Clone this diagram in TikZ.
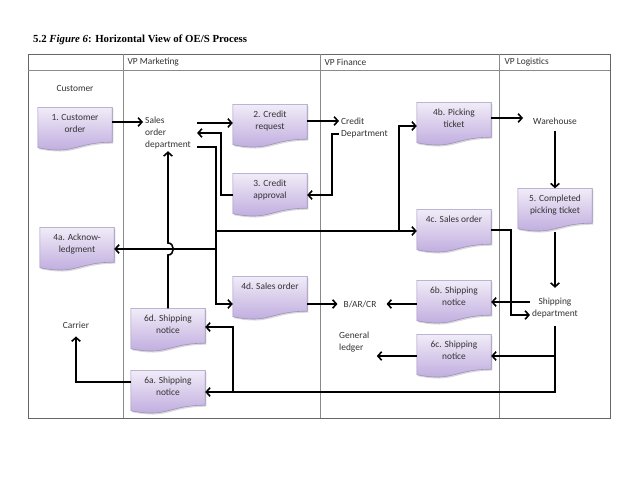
\documentclass[tikz,border=0pt]{standalone}
\usepackage{fontspec}
\setmainfont{Carlito}
\newfontfamily\titlefont{Liberation Serif}
\usetikzlibrary{arrows.meta,backgrounds,shadows}

\definecolor{docTop}{HTML}{F1ECF8}
\definecolor{docBot}{HTML}{BBA6DC}
\definecolor{docEdge}{HTML}{9F92BF}
\definecolor{laneGray}{HTML}{8A8A8A}
\definecolor{inkGray}{HTML}{333333}

\newcommand{\doctxt}[1]{\parbox[c][41pt][t]{72pt}{\centering\rule{0pt}{12pt}#1}}
\newcommand{\docshape}[1]{%
  \path[docpaint] (#1.north west) -- (#1.north east)
    -- ([yshift=8.5]#1.south east)
    .. controls ([yshift=8.5]#1.south) and ([yshift=-4.5]#1.south) ..
    ([yshift=3]#1.south west) -- cycle;}

\begin{document}
\begin{tikzpicture}[x=1pt, y=-1pt,
    font=\fontsize{9.4}{12}\selectfont, text=inkGray,
    doc/.style={inner sep=1pt},
    docpaint/.style={draw=docEdge, line width=0.6pt, top color=docTop, bottom color=docBot,
      drop shadow={opacity=0.3, shadow xshift=1.2pt, shadow yshift=-1.5pt}},
    lbl/.style={inner sep=2pt, align=center},
    lane/.style={draw=laneGray, line width=0.7pt},
    flow/.style={line width=1.6pt, -{Straight Barb[length=3.8pt,width=8.5pt]}}]

\useasboundingbox (0,0) rectangle (638,479);

% swim lanes
\draw[lane, draw=black!60] (28,54) rectangle (610,418);
\draw[lane] (28,70) -- (610,70);
\draw[lane] (123,54) -- (123,418);
\draw[lane] (320,54) -- (320,418);
\draw[lane] (499,54) -- (499,418);

\node[anchor=west, inner sep=0pt, text=black,
  font={\titlefont\fontsize{10.8}{12}\selectfont\bfseries}] (title) at (33,40)
  {5.2 \textit{Figure 6}: Horizontal View of OE/S Process};

\node[anchor=west] (vpm) at (124,62) {VP Marketing};
\node[anchor=west] (vpf) at (321,62) {VP Finance};
\node[anchor=west] (vpl) at (501,62) {VP Logistics};

% documents
\node[doc] (1) at (75,129) {\doctxt{1. Customer\\order}};
\node[doc] (2) at (270,126) {\doctxt{2. Credit\\request}};
\node[doc] (3) at (270,195) {\doctxt{3. Credit\\approval}};
\node[doc] (4a) at (77,249) {\doctxt{4a. Acknow-\\ledgment}};
\node[doc] (4b) at (454,124) {\doctxt{4b. Picking\\ticket}};
\node[doc] (4c) at (454,231) {\doctxt{4c. Sales order}};
\node[doc] (4d) at (270,298) {\doctxt{4d. Sales order}};
\node[doc] (5) at (555,210) {\doctxt{5. Completed\\picking ticket}};
\node[doc] (6a) at (168,392) {\doctxt{6a. Shipping\\notice}};
\node[doc] (6b) at (454,302) {\doctxt{6b. Shipping\\notice}};
\node[doc] (6c) at (454,356) {\doctxt{6c. Shipping\\notice}};
\node[doc] (6d) at (168,330) {\doctxt{6d. Shipping\\notice}};

% departments
\node[lbl] (cust) at (75,88) {Customer};
\node[lbl, anchor=west, align=left] (sales) at (143,133) {Sales\\order\\department};
\node[lbl, anchor=west, align=left] (credit) at (339,128) {Credit\\Department};
\node[lbl] (ware) at (555,121) {Warehouse};
\node[lbl] (ship) at (555,308) {Shipping\\department};
\node[lbl] (bar) at (360,304) {B/AR/CR};
\node[lbl, anchor=west, align=left] (gl) at (337,342) {General\\ledger};
\node[lbl] (carr) at (76,325) {Carrier};

\begin{scope}[on background layer]
  \fill[white] (0,0) rectangle (638,479);
  \docshape{1} \docshape{2} \docshape{3}
  \docshape{4a} \docshape{4b} \docshape{4c} \docshape{4d}
  \docshape{5}
  \docshape{6a} \docshape{6b} \docshape{6c} \docshape{6d}
\end{scope}

\coordinate (dtop) at (216,147);
\coordinate (pj) at (399,231);
\coordinate (hop) at (6d.north |- 4a.east);

\draw[flow] ([yshift=7]1.east) -- ([yshift=11]sales.west);
\draw[flow] ([xshift=4,yshift=10]sales.east) -- ([yshift=3]2.west);
\draw[flow] (3.west) -- ++(-12,0) |- ([xshift=4]sales.east);
\draw[flow] ([yshift=5]2.east) -- ([yshift=7]credit.west);
\draw[flow] ([yshift=-6]credit.west) -- ++(-7,0) |- (3.east);

% copies of the sales order
\draw[flow] ([xshift=4,yshift=-14]sales.east) -- (dtop) |- ([yshift=-6]4d.west);
\draw[flow] (dtop |- 4c.west) -- (4c.west);
\draw[flow] (dtop |- 4a.east) -- (4a.east);
\draw[flow] (pj) |- ([yshift=-2]4b.west);
\draw[flow] (6d.north) -- ([yshift=-6]hop)
  .. controls ([xshift=7,yshift=-6]hop) and ([xshift=7,yshift=6]hop) ..
  ([yshift=6]hop) -- (6d.north |- sales.south);

% logistics
\draw[flow, shorten >=8pt] ([yshift=6]4b.east) -- ([yshift=3]ware.west);
\draw[flow] ([yshift=-5]ware.south) -- (5.north);
\draw[flow] (5.south) -- ([yshift=8]ship.north);
\draw[flow] ([yshift=1]4c.east) -- ++(20,0) |- ([yshift=-7]ship.west);
\draw[flow] ([yshift=6]ship.west) -- (6b.east);
\draw[flow, shorten >=8pt] ([yshift=-2]6b.west) -- (bar.east);
\draw[flow, shorten >=4pt] ([yshift=-6]4d.east) -- (bar.west);
\draw[flow] ([yshift=-6]ship.south) |- (6a.east);
\draw[flow] (ship.south |- 6c.east) -- (6c.east);
\draw[flow] (4d.west |- 6a.east) |- ([yshift=3]6d.east);
\draw[flow] (6c.west) -- ++(-40,0);
\draw[flow] ([yshift=10]6a.west) -| ([yshift=-6]carr.south);
\end{tikzpicture}
\end{document}
